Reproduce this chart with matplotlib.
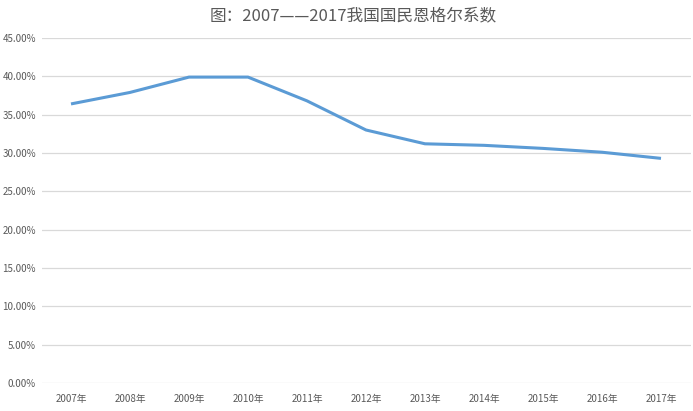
"""
Engel coefficient line chart, 2007-2017
"""
import matplotlib.pyplot as plt
from matplotlib.ticker import FuncFormatter, MultipleLocator

plt.rcParams['font.family'] = ['Noto Sans CJK SC', 'DejaVu Sans']

years = ["2007年", "2008年", "2009年", "2010年", "2011年", "2012年",
         "2013年", "2014年", "2015年", "2016年", "2017年"]
engel = [36.4, 37.9, 39.9, 39.9, 36.8, 33.0, 31.2, 31.0, 30.6, 30.1, 29.3]

fig = plt.figure(figsize=(6.93, 4.11), dpi=100)
ax = fig.add_axes([41.5 / 693, 1 - 383 / 411, 649 / 693, 345 / 411])

x = list(range(len(years)))
ax.plot(x, engel, color="#5B9BD5", linewidth=2.2, solid_capstyle="butt")

ax.set_xlim(-0.5, len(years) - 0.5)
ax.set_ylim(0, 45)
ax.yaxis.set_major_locator(MultipleLocator(5))
ax.yaxis.set_major_formatter(FuncFormatter(lambda v, _: f"{v:.2f}%"))
ax.set_xticks(x)
ax.set_xticklabels(years)

ax.grid(axis="y", color="#D9D9D9", linewidth=0.9)
ax.set_axisbelow(True)
for side in ["top", "right", "left", "bottom"]:
    ax.spines[side].set_visible(False)
ax.tick_params(length=0, labelsize=7, colors="#595959")
ax.tick_params(axis="x", pad=8)
ax.tick_params(axis="y", pad=4)

fig.text(0.51, 1 - 16 / 411, "图：2007——2017我国国民恩格尔系数",
         ha="center", va="center", fontsize=12, color="#595959")

plt.savefig("out.png", dpi=100)
